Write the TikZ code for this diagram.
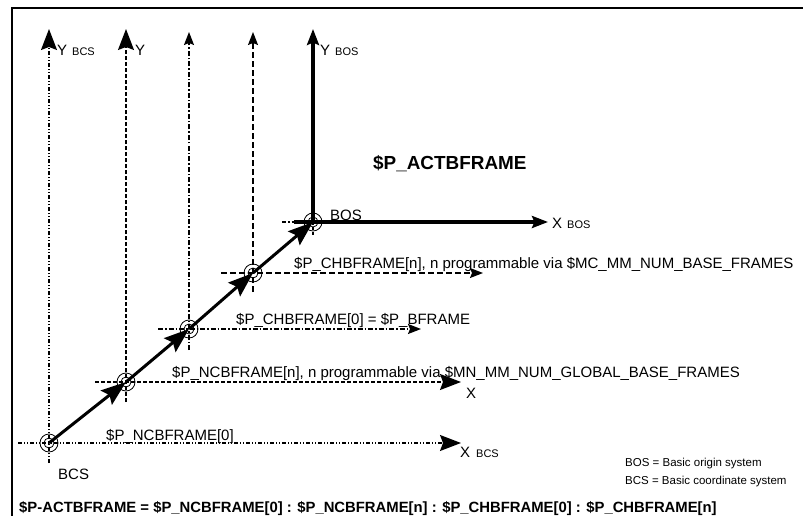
\documentclass[tikz,border=0pt]{standalone}
\usepackage{fontspec}
\setmainfont{Liberation Sans}
\usetikzlibrary{arrows.meta}
\tikzset{
  lbl/.style={inner sep=0pt, anchor=base west, font=\fontsize{15}{18}\selectfont},
  smalllbl/.style={inner sep=0pt, anchor=base west, font=\fontsize{11.5}{14}\selectfont},
  sublbl/.style={inner sep=0pt, anchor=base west, font=\fontsize{11}{13}\selectfont},
  titlelbl/.style={inner sep=0pt, anchor=base west, font=\fontsize{18.9}{22}\selectfont\bfseries},
  bottomlbl/.style={inner sep=0pt, anchor=base west, font=\fontsize{14.85}{18}\selectfont\bfseries},
  ax/.style={line width=1.3pt},
  sBCS/.style={ax, dash pattern=on 4pt off 2pt on 1pt off 2pt on 1pt off 2pt},
  sNCn/.style={ax, dash pattern=on 4pt off 2pt},
  sCH0/.style={ax, dash pattern=on 5pt off 2pt on 1.5pt off 2pt},
  sCHn/.style={ax, dash pattern=on 6pt off 3pt},
  thick axis/.style={line width=3.2pt},
  bigtip/.style={-{Stealth[length=21pt,width=16pt,inset=3pt]}},
  smalltip/.style={-{Stealth[length=13pt,width=10pt,inset=2pt]}},
  midtip/.style={-{Stealth[length=16pt,width=12pt,inset=2.5pt]}},
  diag/.style={line width=3pt, -{Stealth[length=25pt,width=18pt,inset=4pt]}},
  ring/.style={line width=0.8pt},
  framebox/.style={line width=2.5pt},
}
\begin{document}
\begin{tikzpicture}[x=1pt,y=-1pt]
\useasboundingbox (0,0) rectangle (803,516);
% frame
\draw[framebox] (12,516) -- (12,8) -- (803,8);

% origins
\coordinate (o0) at (49,443);
\coordinate (o1) at (126,382);
\coordinate (o2) at (189,329);
\coordinate (o3) at (253,273);
\coordinate (o4) at (313,222);

% vertical axes
\coordinate (y0t) at (49,29);   \coordinate (y0b) at (49,463);
\coordinate (y1t) at (126,29);  \coordinate (y1b) at (126,402);
\coordinate (y2t) at (189,32);  \coordinate (y2b) at (189,350);
\coordinate (y3t) at (253,32);  \coordinate (y3b) at (253,292);
\coordinate (y4t) at (313,29);  \coordinate (y4b) at (313,236);

\draw[sBCS, bigtip] (y0b) -- (y0t);
\draw[sNCn, bigtip] (y1b) -- (y1t);
\draw[sCH0, smalltip] (y2b) -- (y2t);
\draw[sCHn, smalltip] (y3b) -- (y3t);
\draw[thick axis, midtip] (o4) -- (y4t);
\draw[ax, dash pattern=on 3pt off 2pt] (o4) -- (y4b);

% horizontal axes
\coordinate (x0l) at (18,443);  \coordinate (x0r) at (461,443);
\coordinate (x1l) at (95,382);  \coordinate (x1r) at (461,382);
\coordinate (x2l) at (158,329); \coordinate (x2r) at (421,329);
\coordinate (x3l) at (221,273); \coordinate (x3r) at (483,273);
\coordinate (x4l) at (282,222); \coordinate (x4m) at (294,222); \coordinate (x4r) at (548,222);

\draw[sBCS, bigtip] (x0l) -- (x0r);
\draw[sNCn, bigtip] (x1l) -- (x1r);
\draw[sCH0, smalltip] (x2l) -- (x2r);
\draw[sCHn, smalltip] (x3l) -- (x3r);
\draw[ax, dash pattern=on 4pt off 2pt on 1.5pt off 2pt] (x4l) -- (x4m);
\draw[thick axis, midtip] (x4m) -- (x4r);

% rings
\foreach \o in {o0,o1,o2,o3,o4}{
  \draw[ring] (\o) circle (9);
  \draw[ring] (\o) circle (5);
}

% diagonal chain
\draw[diag] (o0) -- (o1);
\draw[diag] (o1) -- (o2);
\draw[diag] (o2) -- (o3);
\draw[diag] (o3) -- (o4);

% labels
\node[lbl] (ly0) at (57,56) {Y};
\node[sublbl] (ly0s) at (72,56) {BCS};
\node[lbl] (ly1) at (135,56) {Y};
\node[lbl] (ly4) at (320,56) {Y};
\node[sublbl] (ly4s) at (335,56) {BOS};
\node[titlelbl] (title) at (373,169) {\$P\_ACTBFRAME};
\node[lbl] (lbos) at (330,220) {BOS};
\node[lbl] (lxbos) at (552,228) {X};
\node[sublbl] (lxboss) at (567,228) {BOS};
\node[lbl] (lchn) at (294,268) {\$P\_CHBFRAME[n], n programmable via \$MC\_MM\_NUM\_BASE\_FRAMES};
\node[lbl] (lch0) at (236,324) {\$P\_CHBFRAME[0] = \$P\_BFRAME};
\node[lbl] (lncn) at (172,377) {\$P\_NCBFRAME[n], n programmable via \$MN\_MM\_NUM\_GLOBAL\_BASE\_FRAMES};
\node[lbl] (lx1) at (466,398) {X};
\node[lbl] (lnc0) at (106,440) {\$P\_NCBFRAME[0]};
\node[lbl] (lxbcs) at (460,457) {X};
\node[sublbl] (lxbcss) at (476,457) {BCS};
\node[lbl] (lbcs) at (58,479) {BCS};
\node[smalllbl] (leg1) at (625,466) {BOS = Basic origin system};
\node[smalllbl] (leg2) at (625,484) {BCS = Basic coordinate system};
\node[bottomlbl] (formula) at (19,512) {\$P-ACTBFRAME = \$P\_NCBFRAME[0] : \$P\_NCBFRAME[n] : \$P\_CHBFRAME[0] : \$P\_CHBFRAME[n]};
\end{tikzpicture}
\end{document}
